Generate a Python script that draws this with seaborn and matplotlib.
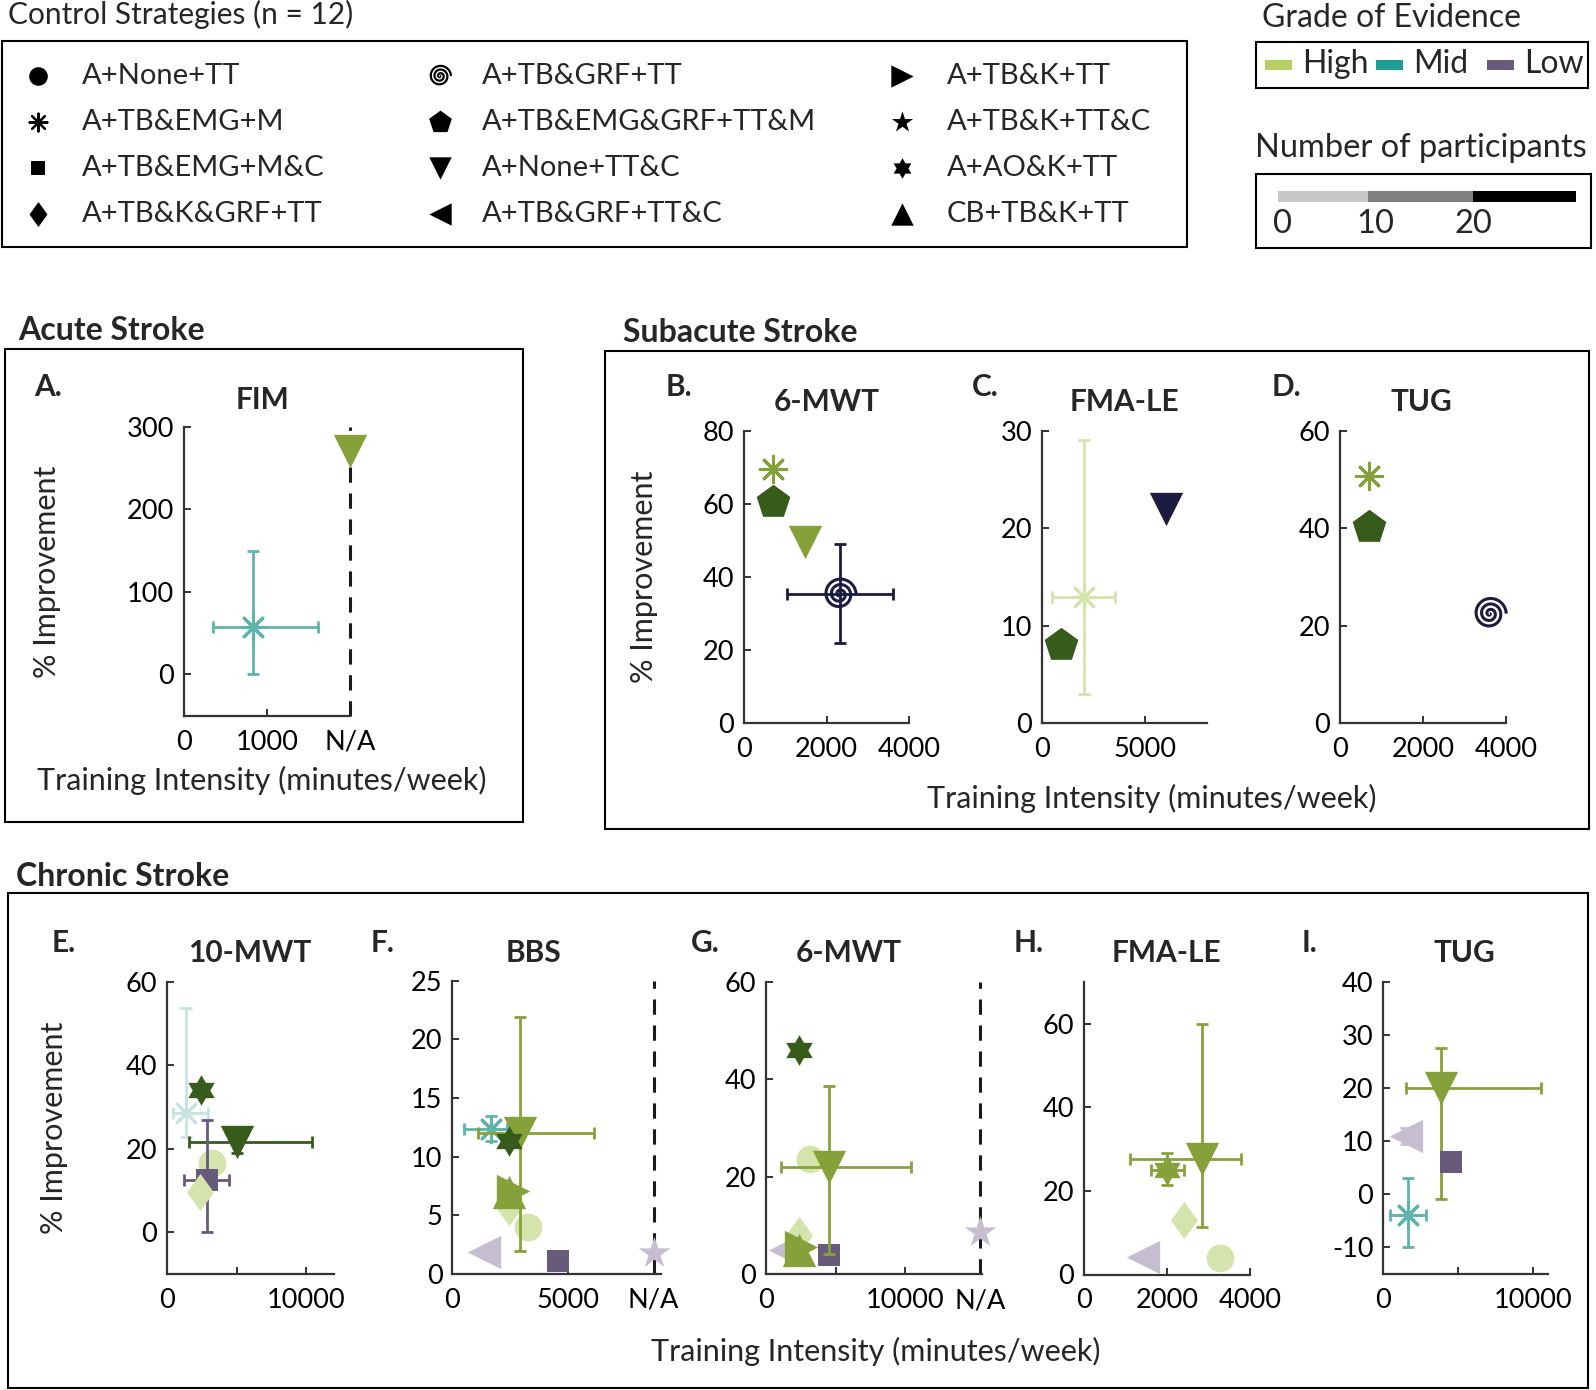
import numpy as np
import seaborn as sns
import matplotlib.pyplot as plt
from matplotlib.path import Path
from matplotlib.markers import MarkerStyle
from matplotlib.patches import Rectangle

sns.set_theme(style="ticks")
plt.rcParams['font.family'] = ['Lato', 'DejaVu Sans']
plt.rcParams['axes.unicode_minus'] = False

W, H = 1596, 1390

# colours: grade of evidence (hue) x number of participants (shade)
HIGH_L, HIGH_M, HIGH_D = '#d5e3ac', '#87a13a', '#365b1b'
MID_L, MID_M = '#c9e4df', '#5fb5ab'
LOW_L, LOW_M, LOW_D = '#c5bed1', '#685a7b', '#1d1b40'

# ---------------- data (x = training intensity, y = % improvement) ----------------
# error bounds are (low, high); 'N/A' = intensity not reported
A_strategy = ['A+TB&EMG+M', 'A+None+TT&C']
A_x = [838, 'N/A']
A_y = [58, 270]
A_color = [MID_M, HIGH_M]
A_xerr = [(352, 1610), None]
A_yerr = [(0, 150), None]

B_strategy = ['A+TB&EMG+M', 'A+TB&EMG&GRF+TT&M', 'A+None+TT&C', 'A+TB&GRF+TT']
B_x = [700, 700, 1480, 2320]
B_y = [69.5, 60.5, 49.5, 35.3]
B_color = [HIGH_M, HIGH_D, HIGH_M, LOW_D]
B_xerr = [None, None, None, (1050, 3600)]
B_yerr = [None, None, None, (22, 49)]

C_strategy = ['A+TB&EMG+M', 'A+TB&EMG&GRF+TT&M', 'A+None+TT&C']
C_x = [2050, 920, 6030]
C_y = [12.9, 8.0, 22.0]
C_color = [HIGH_L, HIGH_D, LOW_D]
C_xerr = [(485, 3520), None, None]
C_yerr = [(3, 29), None, None]

D_strategy = ['A+TB&EMG+M', 'A+TB&EMG&GRF+TT&M', 'A+TB&GRF+TT']
D_x = [700, 700, 3610]
D_y = [50.8, 40.2, 22.5]
D_color = [HIGH_M, HIGH_D, LOW_D]
D_xerr = [None, None, None]
D_yerr = [None, None, None]

E_strategy = ['A+TB&EMG+M', 'A+AO&K+TT', 'A+None+TT&C', 'A+None+TT',
              'A+TB&EMG+M&C', 'A+TB&K&GRF+TT']
E_x = [1345, 2420, 5060, 3240, 2860, 2400]
E_y = [28.6, 34.0, 21.5, 16.7, 12.6, 9.7]
E_color = [MID_L, HIGH_D, HIGH_D, HIGH_L, LOW_M, HIGH_L]
E_xerr = [(450, 2930), None, (1580, 10450), None, (1220, 4480), None]
E_yerr = [(22.9, 53.7), None, (19, 25.3), None, (0, 26.9), None]

F_strategy = ['A+None+TT', 'A+TB&K&GRF+TT', 'A+TB&K+TT', 'CB+TB&K+TT', 'A+TB&GRF+TT&C',
              'A+TB&EMG+M&C', 'A+TB&K+TT&C', 'A+TB&EMG+M', 'A+None+TT&C', 'A+AO&K+TT']
F_x = [3290, 2460, 2620, 2470, 1390, 4580, 'N/A', 1680, 2930, 2470]
F_y = [4.0, 5.7, 7.1, 7.0, 1.9, 1.1, 1.8, 12.4, 12.0, 11.3]
F_color = [HIGH_L, HIGH_L, HIGH_M, HIGH_M, LOW_L, LOW_M, LOW_L, MID_M, HIGH_M, HIGH_D]
F_xerr = [None, None, None, None, None, None, None, (490, 2360), (1110, 6120), None]
F_yerr = [None, None, None, None, None, None, None, (11.3, 13.5), (2.0, 21.9), None]

G_strategy = ['A+TB&GRF+TT&C', 'A+TB&K&GRF+TT', 'A+TB&K+TT', 'CB+TB&K+TT', 'A+None+TT',
              'A+TB&EMG+M&C', 'A+TB&K+TT&C', 'A+None+TT&C', 'A+AO&K+TT']
G_x = [1370, 2400, 2500, 2400, 3170, 4530, 'N/A', 4550, 2400]
G_y = [5.0, 8.0, 5.5, 5.0, 23.6, 4.0, 8.7, 22.0, 46.0]
G_color = [LOW_L, HIGH_L, HIGH_M, HIGH_M, HIGH_L, LOW_M, LOW_L, HIGH_M, HIGH_D]
G_xerr = [None, None, None, None, None, None, None, (1060, 10410), None]
G_yerr = [None, None, None, None, None, None, None, (4.1, 38.6), None]

H_strategy = ['A+TB&GRF+TT&C', 'A+None+TT', 'A+TB&K&GRF+TT', 'A+AO&K+TT', 'A+None+TT&C']
H_x = [1420, 3280, 2410, 2010, 2850]
H_y = [4.2, 3.9, 13.0, 25.0, 27.6]
H_color = [LOW_L, HIGH_L, HIGH_L, HIGH_M, HIGH_M]
H_xerr = [None, None, None, (1610, 2420), (1100, 3790)]
H_yerr = [None, None, None, (21.4, 29.1), (11.3, 60)]

I_strategy = ['A+None+TT&C', 'A+TB&GRF+TT&C', 'A+TB&EMG+M&C', 'A+TB&EMG+M']
I_x = [3890, 1510, 4500, 1660]
I_y = [20.0, 11.0, 6.1, -3.9]
I_color = [HIGH_M, LOW_L, LOW_M, MID_M]
I_xerr = [(1500, 10500), None, None, (460, 2890)]
I_yerr = [(-0.8, 27.5), (9.5, 12.5), None, (-9.9, 3.1)]

# ---------------- marker shapes ----------------
_t = np.linspace(0, 6 * np.pi, 200)
SPIRAL = MarkerStyle(Path(np.column_stack([_t * np.cos(_t), -_t * np.sin(_t)])), fillstyle='none')
_a = np.pi / 2 + np.arange(12) * np.pi / 6
_r = np.where(np.arange(12) % 2 == 0, 1.0, 1 / np.sqrt(3))
_hv = np.column_stack([_r * np.cos(_a), _r * np.sin(_a)])
HEXAGRAM = Path(np.vstack([_hv, _hv[:1]]), closed=True)
DIAMOND = Path([[0, 1], [0.72, 0], [0, -1], [-0.72, 0], [0, 1]], closed=True)

MARKERS = {
    'A+None+TT': 'o', 'A+TB&EMG+M': (8, 2, 0), 'A+TB&EMG+M&C': 's', 'A+TB&K&GRF+TT': DIAMOND,
    'A+TB&GRF+TT': SPIRAL, 'A+TB&EMG&GRF+TT&M': 'p', 'A+None+TT&C': 'v', 'A+TB&GRF+TT&C': '<',
    'A+TB&K+TT': '>', 'A+TB&K+TT&C': '*', 'A+AO&K+TT': HEXAGRAM, 'CB+TB&K+TT': '^',
}
SIZES = {
    'A+None+TT': 400, 'A+TB&EMG+M': 361, 'A+TB&EMG+M&C': 240, 'A+TB&K&GRF+TT': 720,
    'A+TB&GRF+TT': 560, 'A+TB&EMG&GRF+TT&M': 650, 'A+None+TT&C': 576, 'A+TB&GRF+TT&C': 576,
    'A+TB&K+TT': 576, 'A+TB&K+TT&C': 570, 'A+AO&K+TT': 484, 'CB+TB&K+TT': 576,
}
LINE_ART = {'A+TB&EMG+M', 'A+TB&GRF+TT'}

fig = plt.figure(figsize=(W / 100, H / 100), dpi=100)

# overlay in pixel coordinates for frames, legends and shared texts
ov = fig.add_axes([0, 0, 1, 1])
ov.set_xlim(0, W)
ov.set_ylim(H, 0)
ov.axis('off')


def frame(x0, y0, x1, y1):
    ov.add_patch(Rectangle((x0, y0), x1 - x0, y1 - y0, fill=False, lw=1.5, ec='black'))


def panel_axes(box, xlim, ylim, xticks, xlabels, yticks, na=None):
    l, t, r, b = box
    ax = fig.add_axes([l / W, 1 - b / H, (r - l) / W, (b - t) / H])
    ax.set_facecolor('none')
    ax.set_xlim(xlim)
    ax.set_ylim(ylim)
    sns.despine(ax=ax)
    for sp in ['left', 'bottom']:
        ax.spines[sp].set_linewidth(1.6)
        ax.spines[sp].set_color('#333333')
    ax.set_xticks(xticks)
    ax.set_xticklabels(xlabels)
    ax.set_yticks(yticks)
    ax.tick_params(direction='in', length=5, width=1.4, color='#333333', labelcolor='black',
                   labelsize=19.5)
    ax.tick_params(axis='x', pad=10)
    ax.tick_params(axis='y', pad=7)
    if na is not None:
        ax.axvline(na, color='#1a1a1a', lw=2.2, ls=(0, (5, 3.5)), zorder=1, clip_on=False)
    return ax


def draw_points(ax, strategy, xs, ys, colors, xerr, yerr, na=None):
    for i, (s, x, y, c, xe, ye) in enumerate(zip(strategy, xs, ys, colors, xerr, yerr)):
        xv = na if x == 'N/A' else x
        z = 3 + 2 * i
        if xe is not None or ye is not None:
            ax.errorbar(xv, y,
                        xerr=None if xe is None else [[xv - xe[0]], [xe[1] - xv]],
                        yerr=None if ye is None else [[y - ye[0]], [ye[1] - y]],
                        fmt='none', ecolor=c, elinewidth=2, capsize=4, capthick=2, zorder=z)
        if s in LINE_ART:
            sns.scatterplot(x=[xv], y=[y], marker=MARKERS[s], s=SIZES[s], color=c,
                            linewidth=2.2, ax=ax, zorder=z + 1, clip_on=False, legend=False)
        else:
            sns.scatterplot(x=[xv], y=[y], marker=MARKERS[s], s=SIZES[s], color=c,
                            edgecolor=c, linewidth=0, ax=ax, zorder=z + 1, clip_on=False,
                            legend=False)


# ---------------- panels ----------------
ax = panel_axes((183.6, 426.7, 350.4, 715.7), (0, 2000), (-50, 300), [0, 1000, 2000],
                ['0', '1000', 'N/A'], [0, 100, 200, 300], na=2000)
draw_points(ax, A_strategy, A_x, A_y, A_color, A_xerr, A_yerr, na=2000)

ax = panel_axes((744, 430.7, 909, 723.3), (0, 4000), (0, 80), [0, 2000, 4000],
                ['0', '2000', '4000'], [0, 20, 40, 60, 80])
draw_points(ax, B_strategy, B_x, B_y, B_color, B_xerr, B_yerr)

ax = panel_axes((1042, 430.7, 1207, 723.3), (0, 8000), (0, 30), [0, 5000],
                ['0', '5000'], [0, 10, 20, 30])
draw_points(ax, C_strategy, C_x, C_y, C_color, C_xerr, C_yerr)

ax = panel_axes((1340, 430.7, 1506, 723.3), (0, 4000), (0, 60), [0, 2000, 4000],
                ['0', '2000', '4000'], [0, 20, 40, 60])
draw_points(ax, D_strategy, D_x, D_y, D_color, D_xerr, D_yerr)

ax = panel_axes((167, 981.7, 334, 1274), (0, 12000), (-10, 60), [0, 5000, 10000],
                ['0', '', '10000'], [0, 20, 40, 60])
draw_points(ax, E_strategy, E_x, E_y, E_color, E_xerr, E_yerr)

ax = panel_axes((452.3, 980.7, 660.6, 1274), (0, 9000), (0, 25), [0, 5000, 8700],
                ['0', '5000', 'N/A'], [0, 5, 10, 15, 20, 25], na=8700)
draw_points(ax, F_strategy, F_x, F_y, F_color, F_xerr, F_yerr, na=8700)

ax = panel_axes((766, 981.7, 981.5, 1274.2), (0, 15500), (0, 60), [0, 5000, 10000, 15400],
                ['0', '', '10000', 'N/A'], [0, 20, 40, 60], na=15400)
draw_points(ax, G_strategy, G_x, G_y, G_color, G_xerr, G_yerr, na=15400)

ax = panel_axes((1084, 981.7, 1250, 1274.5), (0, 4000), (0, 70), [0, 2000, 4000],
                ['0', '2000', '4000'], [0, 20, 40, 60])
draw_points(ax, H_strategy, H_x, H_y, H_color, H_xerr, H_yerr)

ax = panel_axes((1383, 981.7, 1548, 1274), (0, 11000), (-15, 40), [0, 5000, 10000],
                ['0', '', '10000'], [-10, 0, 10, 20, 30, 40])
draw_points(ax, I_strategy, I_x, I_y, I_color, I_xerr, I_yerr)

# ---------------- frames and texts ----------------
frame(1.5, 41, 1187, 247)
frame(1256, 42, 1588, 88)
frame(1256, 174, 1591, 248)
frame(5, 349, 523, 822)
frame(605, 351, 1589, 829)
frame(8, 893, 1588, 1388)

ov.text(8, 14, 'Control Strategies (n = 12)', fontsize=21.5, ha='left', va='center')
ov.text(1262, 18, 'Grade of Evidence', fontsize=23, ha='left', va='center')
ov.text(1255, 148, 'Number of participants', fontsize=23.5, ha='left', va='center')

bold = dict(fontsize=23, fontweight='bold', va='center')
ov.text(18, 331, 'Acute Stroke', ha='left', **bold)
ov.text(623, 333, 'Subacute Stroke', ha='left', **bold)
ov.text(16, 877, 'Chronic Stroke', ha='left', **bold)

for lab, x, y in [('A.', 34, 387), ('B.', 666, 387), ('C.', 972, 387), ('D.', 1272, 387),
                  ('E.', 52, 943), ('F.', 371, 943), ('G.', 691, 943), ('H.', 1014, 943),
                  ('I.', 1302, 943)]:
    ov.text(x, y, lab, ha='left', fontsize=21.5, fontweight='bold', va='center')
for lab, x, y in [('FIM', 262, 400), ('6-MWT', 827, 402), ('FMA-LE', 1124, 402),
                  ('TUG', 1421, 402), ('10-MWT', 250, 953), ('BBS', 533, 953),
                  ('6-MWT', 849, 953), ('FMA-LE', 1166, 953), ('TUG', 1464, 953)]:
    ov.text(x, y, lab, ha='center', fontsize=21.5, fontweight='bold', va='center')

for x, y in [(47, 572), (644, 577), (54, 1128)]:
    ov.text(x, y, '% Improvement', fontsize=22, rotation=90, ha='center', va='center')
for x, y in [(262, 780), (1152, 798), (876, 1351)]:
    ov.text(x, y, 'Training Intensity (minutes/week)', fontsize=22, ha='center', va='center')

# control strategy legend
legend_cols = [(38, 82, ['A+None+TT', 'A+TB&EMG+M', 'A+TB&EMG+M&C', 'A+TB&K&GRF+TT']),
               (440, 482, ['A+TB&GRF+TT', 'A+TB&EMG&GRF+TT&M', 'A+None+TT&C', 'A+TB&GRF+TT&C']),
               (902, 947, ['A+TB&K+TT', 'A+TB&K+TT&C', 'A+AO&K+TT', 'CB+TB&K+TT'])]
legend_rows = [76, 122, 168, 214]
for mx, tx, names in legend_cols:
    for name, ry in zip(names, legend_rows):
        lw = 1.6 if name in LINE_ART else 0
        ov.scatter([mx], [ry], marker=MARKERS[name], s=SIZES[name] * 0.45, color='black',
                   linewidths=lw)
        ov.text(tx, ry, name, fontsize=21, ha='left', va='center')

# grade of evidence legend
for lab, col, px in [('High', '#b6cd63', 1265), ('Mid', '#1e9d92', 1376), ('Low', '#675b7b', 1487)]:
    ov.add_patch(Rectangle((px, 60), 27, 10, color=col, lw=0))
    ov.text(px + 37, 64, lab, fontsize=23, ha='left', va='center')

# number of participants bar
for x0, x1, col in [(1278, 1368, '#c8c8c8'), (1368, 1473, '#808080'), (1473, 1576, '#000000')]:
    ov.add_patch(Rectangle((x0, 191), x1 - x0, 11, color=col, lw=0))
for lab, x in [('0', 1282), ('10', 1375), ('20', 1473)]:
    ov.text(x, 224, lab, fontsize=23.5, ha='center', va='center')

fig.savefig('out.png', dpi=100)
